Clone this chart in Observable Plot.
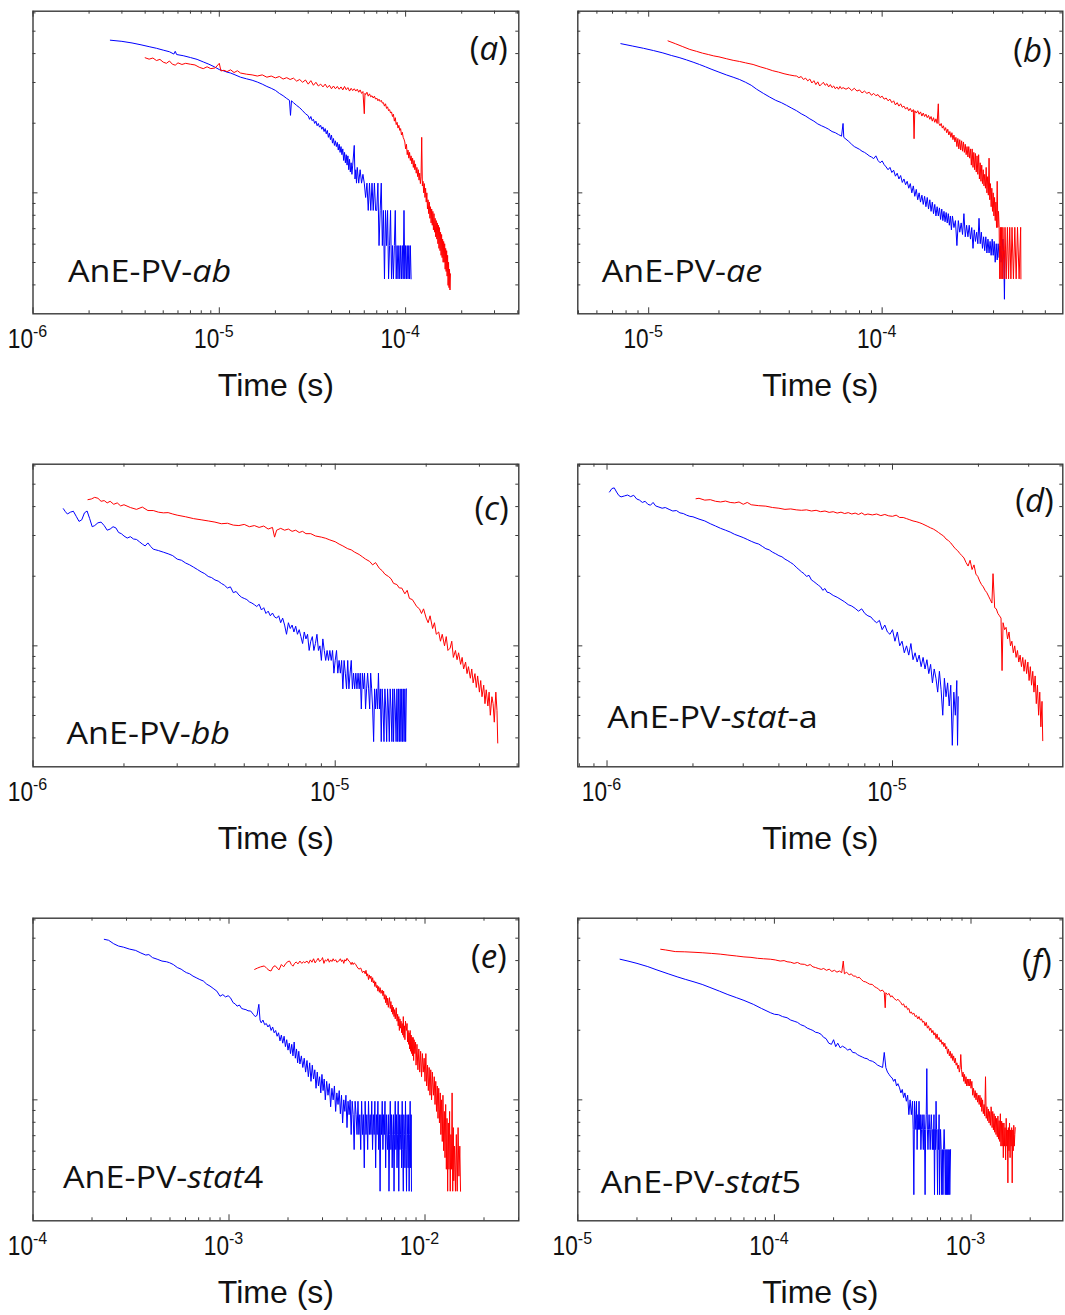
<!DOCTYPE html>
<html><head><meta charset="utf-8">
<script src="https://cdn.jsdelivr.net/npm/d3@7"></script>
<script src="https://cdn.jsdelivr.net/npm/@observablehq/plot@0.6"></script>
<style>
html,body{margin:0;padding:0;background:#fff;}
body{width:1065px;height:1315px;overflow:hidden;position:relative;}
.panel{position:absolute;}
</style></head>
<body>
<script>
// ---- Data: [time (µs), log10 signal (a.u.)] ----
const a_blue = [[2.6,0.66],[3.0,0.655],[3.4,0.648],[3.8,0.64],[4.2,0.632],[4.6,0.625],[5.0,0.617],[5.4,0.61],[5.7,0.60],[5.8,0.612],[5.9,0.598],[6.4,0.593],[7.0,0.585],[7.6,0.577],[8.2,0.566],[8.8,0.556],[9.4,0.545],[10,0.533],[10.5,0.528],[11,0.522],[11.5,0.518],[12,0.512],[13,0.50],[14,0.493],[15,0.487],[16,0.479],[17,0.47],[18,0.46],[19,0.452],[20,0.443],[21,0.43],[22,0.42],[23,0.408],[23.8,0.40],[24.1,0.335],[24.4,0.398],[25,0.39],[26,0.378],[27,0.368],[28,0.355],[29,0.342],[30,0.333],[30.5,0.318],[31,0.33],[31.5,0.312],[32,0.318],[32.5,0.3],[33,0.31],[33.5,0.29],[34,0.3],[34.5,0.284],[35,0.292],[35.5,0.275],[36,0.285],[36.5,0.265],[37,0.278],[37.5,0.255],[38,0.27],[38.5,0.24],[39,0.258],[39.5,0.23],[40,0.25],[40.5,0.215],[41,0.235],[41.5,0.205],[42,0.225],[42.5,0.2],[43,0.218],[43.5,0.185],[44,0.21],[44.5,0.175],[45,0.2],[45.5,0.165],[46,0.19],[46.5,0.14],[47,0.175],[47.5,0.13],[48,0.165],[48.5,0.12],[49,0.16],[49.5,0.1],[50,0.145],[50.5,0.09],[51,0.13],[51.5,0.08],[52,0.12],[53,0.205],[53.5,0.06],[54,0.1],[54.5,0.042],[55,0.11],[56,0.042],[57,0.1],[58,0.042],[59,0.08],[60,0.042],[61,-0.02],[62,0.042],[63,-0.076],[64,0.042],[65,-0.076],[66,0.042],[67,-0.076],[68,0.042],[69,-0.076],[70,-0.076],[71,0.042],[72,-0.228],[73,-0.076],[74,0.042],[75,-0.228],[76,-0.076],[77,-0.372],[78,-0.076],[79,-0.228],[80,-0.076],[81,-0.372],[82,-0.228],[83,-0.076],[84,-0.372],[85,-0.228],[86,-0.372],[87,-0.228],[88,-0.076],[89,-0.372],[90,-0.228],[91,-0.372],[92,-0.228],[93,-0.372],[94,-0.228],[95,-0.372],[96,-0.228],[97,-0.372],[98,-0.076],[99,-0.372],[100,-0.228],[101,-0.372],[102,-0.228],[103,-0.372],[104,-0.228],[105,-0.372],[106,-0.228],[107,-0.372]];
const a_red = [[4.0,0.584],[4.2,0.578],[4.4,0.583],[4.6,0.572],[4.8,0.577],[5.0,0.565],[5.2,0.56],[5.4,0.57],[5.6,0.556],[5.8,0.552],[6.0,0.562],[6.3,0.555],[6.6,0.56],[7.0,0.556],[7.4,0.553],[7.8,0.543],[8.2,0.537],[8.6,0.545],[9.0,0.537],[9.5,0.54],[10,0.56],[10.2,0.527],[10.6,0.53],[11,0.524],[11.5,0.532],[12,0.52],[12.5,0.528],[13,0.518],[14,0.513],[15,0.51],[16,0.505],[17,0.51],[18,0.5],[19,0.505],[20,0.497],[21,0.503],[22,0.492],[23,0.498],[24,0.49],[25,0.496],[26,0.483],[27,0.49],[28,0.478],[29,0.488],[30,0.47],[31,0.485],[32,0.465],[33,0.478],[34,0.462],[35,0.47],[36,0.458],[37,0.47],[38,0.455],[39,0.465],[40,0.45],[41,0.462],[42,0.45],[43,0.46],[44,0.448],[45,0.458],[46,0.445],[47,0.46],[48,0.446],[49,0.455],[50,0.44],[51,0.452],[52,0.442],[53,0.45],[54,0.44],[55,0.448],[56,0.435],[57,0.445],[58,0.43],[59,0.438],[60,0.342],[60.5,0.43],[61,0.425],[62,0.435],[63,0.418],[64,0.428],[65,0.415],[66,0.42],[67,0.41],[68,0.418],[69,0.405],[70,0.41],[71,0.398],[72,0.405],[73,0.395],[74,0.4],[75,0.388],[76,0.39],[77,0.375],[78,0.385],[79,0.365],[80,0.372],[81,0.355],[82,0.36],[83,0.345],[84,0.35],[85,0.33],[86,0.34],[87,0.31],[88,0.325],[89,0.295],[90,0.305],[91,0.28],[92,0.292],[93,0.27],[94,0.278],[95,0.25],[96,0.262],[97,0.24],[98,0.232],[99,0.22],[100,0.19],[101,0.21],[102,0.165],[103,0.185],[104,0.15],[105,0.175],[106,0.14],[107,0.16],[108,0.125],[109,0.15],[110,0.11],[111,0.14],[112,0.1],[113,0.125],[114,0.085],[115,0.11],[116,0.07],[117,0.1],[118,0.055],[119,0.085],[120,0.04],[121,0.07],[122,0.24],[123,0.03],[124,0.05],[125,0.0],[126,0.04],[127,-0.02],[128,0.02],[129,-0.04],[130,0.0],[131,-0.07],[132,-0.03],[133,-0.09],[134,-0.04],[135,-0.11],[136,-0.06],[137,-0.13],[138,-0.07],[139,-0.14],[140,-0.08],[141,-0.16],[142,-0.09],[143,-0.17],[144,-0.11],[145,-0.19],[146,-0.12],[147,-0.2],[148,-0.13],[149,-0.22],[150,-0.14],[151,-0.24],[152,-0.15],[153,-0.25],[154,-0.17],[155,-0.27],[156,-0.18],[157,-0.28],[158,-0.2],[159,-0.3],[160,-0.21],[161,-0.3],[162,-0.22],[163,-0.33],[164,-0.24],[165,-0.34],[166,-0.25],[167,-0.36],[168,-0.27],[169,-0.4],[170,-0.3],[171,-0.41],[172,-0.33],[173,-0.42],[174,-0.35]];

const b_blue = [[7.6,0.645],[8.5,0.635],[9.5,0.625],[10.5,0.615],[11.5,0.605],[12.5,0.594],[13.5,0.585],[14.5,0.575],[15.5,0.565],[16.5,0.555],[17.5,0.545],[18.5,0.535],[20,0.522],[21.5,0.51],[23,0.5],[24.5,0.49],[26,0.478],[27.5,0.465],[29,0.448],[31,0.43],[33,0.414],[35,0.4],[37,0.39],[39,0.378],[41,0.366],[43,0.355],[45,0.342],[47,0.332],[49,0.32],[51,0.31],[53,0.298],[55,0.29],[57,0.283],[59,0.275],[61,0.265],[63,0.26],[65,0.252],[67,0.245],[68,0.3],[68.5,0.24],[70,0.232],[72,0.222],[74,0.21],[76,0.2],[78,0.194],[80,0.188],[82,0.18],[84,0.175],[86,0.168],[88,0.16],[90,0.155],[92,0.148],[94,0.16],[96,0.14],[98,0.13],[100,0.138],[102,0.122],[104,0.112],[106,0.1],[108,0.11],[110,0.088],[112,0.098],[114,0.072],[116,0.085],[118,0.06],[120,0.075],[122,0.045],[124,0.06],[126,0.035],[128,0.05],[130,0.02],[132,0.04],[134,0.0],[136,0.03],[138,-0.015],[140,0.015],[142,-0.03],[144,0.0],[146,-0.04],[148,-0.01],[150,-0.05],[152,-0.015],[154,-0.06],[156,-0.02],[158,-0.07],[160,-0.03],[162,-0.08],[164,-0.04],[166,-0.09],[168,-0.05],[170,-0.1],[172,-0.06],[174,-0.1],[176,-0.065],[178,-0.115],[180,-0.07],[182,-0.12],[184,-0.08],[186,-0.125],[188,-0.085],[190,-0.13],[192,-0.09],[194,-0.14],[196,-0.1],[198,-0.16],[200,-0.1],[203,-0.15],[206,-0.12],[209,-0.228],[212,-0.12],[215,-0.17],[218,-0.13],[221,-0.18],[224,-0.09],[227,-0.19],[230,-0.14],[233,-0.19],[236,-0.14],[239,-0.2],[242,-0.15],[245,-0.24],[248,-0.16],[251,-0.21],[254,-0.17],[257,-0.22],[260,-0.11],[263,-0.22],[266,-0.17],[269,-0.24],[272,-0.19],[275,-0.25],[278,-0.19],[281,-0.26],[284,-0.2],[287,-0.26],[290,-0.21],[293,-0.27],[296,-0.2],[299,-0.27],[302,-0.21],[305,-0.3],[308,-0.22],[311,-0.29],[314,-0.22],[317,-0.28],[320,-0.23],[323,-0.3],[326,-0.25],[329,-0.2],[332,-0.29],[334,-0.46],[336,-0.25]];
const b_red = [[12.1,0.657],[13,0.645],[14,0.632],[15,0.62],[16,0.612],[17,0.604],[18,0.598],[19,0.592],[20,0.588],[21.5,0.58],[23,0.573],[24.5,0.568],[26,0.562],[28,0.555],[30,0.545],[32,0.537],[34,0.528],[36,0.522],[38,0.515],[40,0.51],[42,0.506],[43,0.505],[44,0.498],[45,0.503],[46,0.49],[47,0.496],[48,0.484],[49,0.492],[50,0.475],[51,0.485],[52,0.468],[53,0.48],[54,0.462],[55,0.47],[56,0.478],[57,0.465],[58,0.472],[59,0.458],[60,0.468],[61,0.455],[62,0.462],[63,0.45],[64,0.458],[65,0.448],[66,0.46],[67,0.45],[68,0.455],[70,0.448],[72,0.455],[74,0.442],[76,0.452],[78,0.44],[80,0.445],[82,0.432],[84,0.44],[86,0.43],[88,0.435],[90,0.422],[92,0.43],[94,0.42],[96,0.425],[98,0.412],[100,0.418],[102,0.405],[104,0.41],[106,0.398],[108,0.405],[110,0.39],[112,0.398],[114,0.38],[116,0.39],[118,0.375],[120,0.385],[122,0.37],[124,0.375],[126,0.362],[128,0.37],[130,0.355],[132,0.365],[134,0.35],[136,0.36],[137,0.234],[138,0.355],[140,0.345],[142,0.355],[144,0.34],[146,0.35],[148,0.332],[150,0.345],[152,0.33],[154,0.34],[156,0.325],[158,0.335],[160,0.318],[162,0.33],[164,0.31],[166,0.325],[168,0.305],[170,0.32],[172,0.3],[174,0.385],[175,0.3],[177,0.29],[179,0.3],[181,0.28],[183,0.29],[185,0.27],[187,0.282],[189,0.26],[191,0.275],[193,0.25],[195,0.265],[197,0.24],[199,0.26],[201,0.23],[203,0.25],[205,0.22],[207,0.24],[209,0.2],[211,0.235],[213,0.19],[215,0.23],[217,0.185],[219,0.225],[221,0.18],[223,0.22],[225,0.175],[227,0.21],[229,0.165],[231,0.2],[233,0.155],[235,0.2],[237,0.15],[239,0.19],[241,0.12],[243,0.19],[245,0.11],[247,0.175],[249,0.1],[251,0.17],[253,0.09],[255,0.16],[257,0.08],[259,0.165],[261,0.06],[263,0.13],[265,0.05],[267,0.12],[269,0.04],[271,0.1],[273,0.03],[275,0.08],[277,0.02],[279,0.11],[281,0.0],[283,0.07],[285,-0.01],[287,0.15],[289,-0.03],[291,0.04],[293,-0.06],[295,0.02],[297,-0.08],[299,0.0],[301,-0.1],[303,-0.02],[305,-0.12],[307,-0.04],[309,-0.15],[311,0.05],[313,-0.15],[315,-0.08],[317,-0.149],[319,-0.372],[321,-0.149],[323,-0.372],[325,-0.149],[327,-0.372],[329,-0.149],[331,-0.25],[333,-0.372],[336,-0.149],[340,-0.372],[344,-0.149],[348,-0.372],[352,-0.149],[356,-0.372],[360,-0.149],[365,-0.372],[370,-0.149],[375,-0.372],[380,-0.149],[386,-0.372],[392,-0.149],[393,-0.372]];

const c_blue = [[1.26,0.593],[1.28,0.58],[1.30,0.57],[1.33,0.578],[1.36,0.582],[1.39,0.56],[1.42,0.538],[1.45,0.545],[1.48,0.575],[1.51,0.583],[1.54,0.55],[1.57,0.515],[1.60,0.52],[1.64,0.532],[1.68,0.535],[1.72,0.52],[1.76,0.5],[1.80,0.505],[1.84,0.515],[1.88,0.51],[1.92,0.49],[1.96,0.485],[2.0,0.475],[2.05,0.466],[2.1,0.472],[2.15,0.462],[2.2,0.46],[2.25,0.45],[2.3,0.44],[2.35,0.432],[2.4,0.445],[2.45,0.43],[2.5,0.418],[2.55,0.415],[2.6,0.412],[2.7,0.405],[2.8,0.398],[2.9,0.39],[3.0,0.375],[3.1,0.37],[3.2,0.358],[3.3,0.35],[3.4,0.34],[3.5,0.33],[3.6,0.32],[3.7,0.312],[3.8,0.3],[3.9,0.295],[4.0,0.285],[4.1,0.28],[4.2,0.27],[4.3,0.262],[4.4,0.25],[4.5,0.255],[4.6,0.23],[4.7,0.235],[4.8,0.22],[4.9,0.21],[5.0,0.205],[5.1,0.2],[5.2,0.19],[5.3,0.185],[5.4,0.178],[5.5,0.17],[5.6,0.18],[5.7,0.155],[5.8,0.165],[5.9,0.14],[6.0,0.15],[6.1,0.13],[6.2,0.142],[6.3,0.125],[6.4,0.12],[6.5,0.13],[6.6,0.1],[6.7,0.12],[6.8,0.09],[6.9,0.05],[7.0,0.1],[7.1,0.075],[7.2,0.09],[7.3,0.06],[7.4,0.085],[7.5,0.05],[7.6,0.07],[7.7,0.04],[7.8,0.01],[7.9,0.06],[8.0,0.03],[8.1,0.05],[8.2,-0.02],[8.3,0.02],[8.4,0.04],[8.5,-0.02],[8.6,0.01],[8.7,0.05],[8.8,-0.02],[8.9,0.0],[9.0,-0.063],[9.1,0.03],[9.2,-0.02],[9.3,-0.063],[9.4,-0.02],[9.5,-0.063],[9.6,-0.02],[9.7,-0.063],[9.8,-0.02],[9.9,-0.118],[10.0,-0.063],[10.1,-0.02],[10.2,-0.118],[10.3,-0.063],[10.4,-0.118],[10.5,-0.063],[10.6,-0.186],[10.7,-0.063],[10.8,-0.118],[10.9,-0.186],[11.0,-0.063],[11.1,-0.186],[11.2,-0.118],[11.3,-0.063],[11.4,-0.186],[11.5,-0.118],[11.6,-0.186],[11.7,-0.118],[11.8,-0.186],[11.9,-0.118],[12.0,-0.186],[12.1,-0.118],[12.2,-0.273],[12.3,-0.118],[12.4,-0.186],[12.5,-0.118],[12.6,-0.273],[12.7,-0.186],[12.8,-0.118],[12.9,-0.186],[13.0,-0.273],[13.1,-0.118],[13.2,-0.186],[13.3,-0.273],[13.4,-0.414],[13.5,-0.186],[13.6,-0.273],[13.7,-0.186],[13.8,-0.273],[13.9,-0.118],[14.0,-0.273],[14.1,-0.186],[14.2,-0.414],[14.3,-0.186],[14.4,-0.273],[14.5,-0.414],[14.6,-0.186],[14.7,-0.273],[14.8,-0.414],[14.9,-0.186],[15.0,-0.273],[15.1,-0.414],[15.2,-0.186],[15.3,-0.273],[15.4,-0.414],[15.5,-0.186],[15.6,-0.414],[15.7,-0.186],[15.8,-0.273],[15.9,-0.414],[16.0,-0.186],[16.1,-0.414],[16.2,-0.186],[16.3,-0.414],[16.4,-0.186],[16.5,-0.414],[16.6,-0.186],[16.7,-0.414],[16.8,-0.186],[16.9,-0.414],[17.0,-0.186],[17.1,-0.414],[17.2,-0.186]];
const c_red = [[1.52,0.632],[1.56,0.635],[1.60,0.642],[1.64,0.638],[1.68,0.625],[1.72,0.628],[1.76,0.618],[1.80,0.625],[1.85,0.612],[1.9,0.618],[1.95,0.605],[2.0,0.61],[2.1,0.598],[2.2,0.59],[2.3,0.6],[2.4,0.585],[2.5,0.585],[2.6,0.578],[2.7,0.575],[2.8,0.576],[2.9,0.57],[3.0,0.565],[3.2,0.558],[3.4,0.55],[3.6,0.545],[3.8,0.54],[4.0,0.535],[4.2,0.528],[4.4,0.53],[4.6,0.522],[4.8,0.52],[5.0,0.525],[5.2,0.515],[5.4,0.52],[5.6,0.512],[5.8,0.518],[6.0,0.505],[6.2,0.512],[6.3,0.47],[6.4,0.5],[6.6,0.508],[6.8,0.5],[7.0,0.505],[7.2,0.495],[7.4,0.5],[7.6,0.49],[7.8,0.495],[8.0,0.485],[8.3,0.485],[8.6,0.475],[9.0,0.47],[9.3,0.465],[9.6,0.458],[10.0,0.45],[10.3,0.44],[10.6,0.432],[11.0,0.42],[11.3,0.415],[11.6,0.405],[12.0,0.395],[12.3,0.385],[12.6,0.375],[13.0,0.365],[13.3,0.35],[13.6,0.36],[14.0,0.335],[14.3,0.325],[14.6,0.31],[15.0,0.3],[15.3,0.29],[15.6,0.27],[16.0,0.265],[16.3,0.25],[16.6,0.25],[17.0,0.225],[17.3,0.24],[17.6,0.205],[18.0,0.2],[18.3,0.185],[18.6,0.17],[19.0,0.16],[19.3,0.14],[19.6,0.16],[20.0,0.12],[20.3,0.1],[20.6,0.13],[21.0,0.075],[21.3,0.1],[21.6,0.05],[22.0,0.06],[22.3,0.02],[22.6,0.05],[23.0,0.0],[23.3,0.04],[23.6,-0.02],[24.0,-0.01],[24.3,0.02],[24.6,-0.05],[25.0,-0.02],[25.3,-0.06],[25.6,-0.03],[26.0,-0.08],[26.3,-0.05],[26.6,-0.1],[27.0,-0.07],[27.3,-0.12],[27.6,-0.09],[28.0,-0.14],[28.3,-0.1],[28.6,-0.16],[29.0,-0.12],[29.3,-0.18],[29.6,-0.13],[30.0,-0.2],[30.3,-0.15],[30.6,-0.22],[31.0,-0.17],[31.3,-0.25],[31.6,-0.19],[32.0,-0.26],[32.3,-0.2],[32.6,-0.3],[33.0,-0.22],[33.3,-0.25],[33.6,-0.33],[34.0,-0.2],[34.3,-0.28],[34.5,-0.42]];

const d_blue = [[1.02,0.665],[1.04,0.68],[1.06,0.683],[1.08,0.665],[1.10,0.65],[1.12,0.644],[1.15,0.648],[1.18,0.652],[1.21,0.645],[1.24,0.651],[1.27,0.635],[1.30,0.63],[1.33,0.62],[1.36,0.625],[1.39,0.612],[1.42,0.608],[1.45,0.62],[1.48,0.605],[1.52,0.6],[1.56,0.595],[1.60,0.598],[1.65,0.59],[1.7,0.583],[1.75,0.585],[1.8,0.575],[1.85,0.572],[1.9,0.565],[1.95,0.56],[2.0,0.558],[2.1,0.548],[2.2,0.54],[2.3,0.528],[2.4,0.518],[2.5,0.508],[2.6,0.5],[2.7,0.492],[2.8,0.482],[2.9,0.475],[3.0,0.468],[3.1,0.46],[3.2,0.452],[3.3,0.445],[3.4,0.44],[3.5,0.43],[3.6,0.42],[3.7,0.415],[3.8,0.405],[3.9,0.398],[4.0,0.39],[4.1,0.385],[4.2,0.375],[4.3,0.368],[4.4,0.36],[4.5,0.352],[4.6,0.34],[4.7,0.33],[4.8,0.32],[4.9,0.312],[5.0,0.3],[5.1,0.305],[5.2,0.285],[5.3,0.278],[5.4,0.27],[5.5,0.262],[5.6,0.255],[5.7,0.24],[5.8,0.248],[5.9,0.232],[6.0,0.23],[6.2,0.218],[6.4,0.21],[6.6,0.2],[6.8,0.19],[7.0,0.178],[7.2,0.172],[7.4,0.162],[7.6,0.15],[7.8,0.16],[8.0,0.14],[8.2,0.13],[8.4,0.125],[8.6,0.11],[8.8,0.1],[9.0,0.11],[9.2,0.07],[9.4,0.09],[9.6,0.06],[9.8,0.05],[10.0,0.07],[10.2,0.02],[10.4,0.06],[10.6,0.0],[10.8,0.02],[11.0,-0.03],[11.2,0.0],[11.4,-0.04],[11.6,0.01],[11.8,-0.06],[12.0,-0.03],[12.2,-0.07],[12.4,-0.04],[12.6,-0.09],[12.8,-0.05],[13.0,-0.1],[13.2,-0.06],[13.4,-0.12],[13.6,-0.08],[13.8,-0.16],[14.0,-0.1],[14.2,-0.14],[14.4,-0.2],[14.6,-0.11],[14.8,-0.19],[15.0,-0.3],[15.2,-0.14],[15.4,-0.22],[15.6,-0.16],[15.8,-0.26],[16.0,-0.17],[16.2,-0.43],[16.4,-0.2],[16.6,-0.3],[16.8,-0.15],[16.9,-0.43],[17.0,-0.22]];
const d_red = [[2.05,0.636],[2.1,0.638],[2.2,0.63],[2.3,0.632],[2.4,0.625],[2.5,0.622],[2.6,0.626],[2.7,0.62],[2.8,0.618],[2.9,0.622],[3.0,0.612],[3.1,0.62],[3.2,0.61],[3.4,0.606],[3.6,0.604],[3.8,0.598],[4.0,0.595],[4.2,0.59],[4.4,0.592],[4.6,0.588],[4.8,0.586],[5.0,0.588],[5.2,0.583],[5.4,0.586],[5.6,0.58],[5.8,0.583],[6.0,0.577],[6.2,0.58],[6.4,0.574],[6.6,0.578],[6.8,0.572],[7.0,0.576],[7.2,0.57],[7.4,0.574],[7.6,0.568],[7.8,0.575],[8.0,0.566],[8.2,0.57],[8.5,0.566],[8.8,0.57],[9.1,0.563],[9.4,0.568],[9.7,0.562],[10.0,0.56],[10.3,0.565],[10.6,0.555],[10.9,0.555],[11.2,0.55],[11.5,0.545],[11.8,0.54],[12.1,0.537],[12.4,0.533],[12.7,0.528],[13.0,0.522],[13.3,0.516],[13.6,0.51],[13.9,0.505],[14.2,0.498],[14.5,0.49],[14.8,0.482],[15.1,0.475],[15.4,0.462],[15.7,0.455],[16.0,0.445],[16.3,0.432],[16.6,0.42],[16.9,0.412],[17.2,0.4],[17.5,0.39],[17.8,0.38],[18.1,0.36],[18.4,0.345],[18.7,0.37],[19.0,0.33],[19.3,0.35],[19.6,0.31],[19.9,0.3],[20.2,0.28],[20.5,0.265],[20.8,0.255],[21.1,0.24],[21.4,0.23],[21.7,0.215],[22.0,0.2],[22.3,0.185],[22.5,0.312],[22.8,0.165],[23.1,0.16],[23.4,0.14],[23.7,0.13],[24.0,0.12],[24.2,-0.107],[24.4,0.1],[24.7,0.07],[25.0,0.08],[25.3,0.03],[25.6,0.06],[25.9,0.0],[26.2,0.02],[26.5,-0.03],[26.8,0.0],[27.1,-0.05],[27.4,-0.02],[27.7,-0.07],[28.0,-0.04],[28.3,-0.09],[28.6,-0.05],[28.9,-0.11],[29.2,-0.06],[29.5,-0.12],[29.8,-0.07],[30.1,-0.15],[30.4,-0.09],[30.7,-0.17],[31.0,-0.11],[31.3,-0.2],[31.6,-0.13],[31.9,-0.25],[32.2,-0.17],[32.5,-0.3],[32.8,-0.2],[33.1,-0.35],[33.4,-0.24],[33.6,-0.41]];

const e_blue = [[231,0.694],[243,0.69],[258,0.675],[273,0.665],[290,0.66],[310,0.652],[334,0.646],[355,0.635],[376,0.626],[390,0.628],[407,0.615],[430,0.608],[455,0.6],[480,0.597],[497,0.593],[520,0.585],[545,0.572],[570,0.565],[590,0.556],[606,0.55],[630,0.545],[655,0.535],[680,0.528],[710,0.52],[739,0.514],[770,0.5],[800,0.492],[830,0.482],[867,0.47],[900,0.448],[930,0.455],[960,0.445],[990,0.45],[1016,0.442],[1050,0.42],[1075,0.415],[1100,0.405],[1130,0.41],[1160,0.395],[1190,0.392],[1220,0.39],[1250,0.385],[1290,0.384],[1330,0.37],[1360,0.36],[1390,0.365],[1420,0.413],[1440,0.345],[1460,0.333],[1490,0.345],[1520,0.325],[1550,0.33],[1580,0.315],[1610,0.325],[1640,0.3],[1670,0.315],[1700,0.29],[1730,0.3],[1760,0.275],[1790,0.29],[1820,0.255],[1850,0.28],[1880,0.245],[1910,0.275],[1940,0.23],[1970,0.26],[2000,0.215],[2030,0.245],[2060,0.2],[2090,0.24],[2120,0.19],[2150,0.25],[2180,0.18],[2210,0.22],[2240,0.16],[2270,0.21],[2300,0.155],[2340,0.19],[2380,0.14],[2420,0.18],[2460,0.12],[2500,0.17],[2540,0.1],[2580,0.16],[2620,0.08],[2660,0.15],[2700,0.09],[2740,0.13],[2780,0.05],[2820,0.12],[2860,0.06],[2900,0.1],[2940,0.03],[2980,0.11],[3020,0.04],[3060,0.09],[3100,0.0],[3150,0.08],[3200,0.02],[3250,0.07],[3300,-0.03],[3350,0.05],[3400,0.0],[3450,0.06],[3500,-0.05],[3550,0.03],[3600,-0.02],[3650,0.04],[3700,-0.06],[3750,0.02],[3800,-0.1],[3850,0.0],[3900,-0.05],[3950,0.02],[4000,-0.12],[4050,-0.006],[4100,-0.064],[4150,0.0],[4200,-0.15],[4250,-0.006],[4300,-0.064],[4350,-0.215],[4400,-0.006],[4450,-0.064],[4500,-0.15],[4550,-0.006],[4600,-0.15],[4650,-0.064],[4700,-0.215],[4750,-0.006],[4800,-0.15],[4850,-0.064],[4900,-0.294],[4950,-0.006],[5000,-0.15],[5050,-0.064],[5100,-0.215],[5150,-0.006],[5200,-0.15],[5250,-0.064],[5300,-0.15],[5350,-0.006],[5400,-0.215],[5450,-0.064],[5500,-0.15],[5550,-0.006],[5600,-0.294],[5650,-0.064],[5700,-0.15],[5750,-0.006],[5800,-0.215],[5850,-0.064],[5900,-0.395],[5950,-0.064],[6000,-0.15],[6050,-0.006],[6100,-0.215],[6150,-0.064],[6200,-0.15],[6250,-0.006],[6300,-0.294],[6350,-0.064],[6400,-0.15],[6450,-0.215],[6500,-0.064],[6550,-0.395],[6600,-0.15],[6650,-0.006],[6700,-0.215],[6750,-0.064],[6800,-0.294],[6850,-0.15],[6900,-0.064],[6950,-0.395],[7000,-0.15],[7050,-0.006],[7100,-0.215],[7150,-0.064],[7200,-0.294],[7250,-0.15],[7300,-0.006],[7350,-0.395],[7400,-0.064],[7450,-0.215],[7500,-0.15],[7550,-0.064],[7600,-0.294],[7650,-0.006],[7700,-0.215],[7750,-0.395],[7800,-0.064],[7850,-0.15],[7900,-0.294],[7950,-0.006],[8000,-0.215],[8050,-0.395],[8100,-0.064],[8150,-0.15],[8200,-0.294],[8250,-0.064],[8300,-0.395],[8350,-0.15],[8400,-0.006],[8450,-0.294],[8500,-0.064],[8530,-0.395]];
const e_red = [[1352,0.564],[1400,0.57],[1450,0.575],[1514,0.579],[1560,0.568],[1600,0.56],[1637,0.557],[1680,0.575],[1720,0.58],[1760,0.57],[1800,0.562],[1850,0.585],[1900,0.575],[1950,0.59],[2000,0.598],[2037,0.6],[2080,0.585],[2120,0.578],[2160,0.59],[2200,0.596],[2250,0.588],[2300,0.6],[2350,0.59],[2400,0.597],[2438,0.593],[2500,0.6],[2550,0.59],[2600,0.605],[2650,0.595],[2700,0.61],[2750,0.592],[2800,0.602],[2850,0.612],[2900,0.598],[2972,0.607],[3000,0.615],[3050,0.59],[3100,0.605],[3150,0.6],[3200,0.61],[3250,0.595],[3300,0.605],[3350,0.598],[3400,0.61],[3450,0.6],[3500,0.606],[3550,0.595],[3631,0.6],[3700,0.61],[3750,0.598],[3800,0.605],[3850,0.59],[3900,0.606],[3950,0.6],[4000,0.612],[4087,0.6],[4150,0.595],[4200,0.585],[4250,0.595],[4300,0.585],[4350,0.592],[4430,0.586],[4500,0.575],[4600,0.565],[4700,0.57],[4800,0.55],[4887,0.557],[4950,0.545],[5000,0.56],[5050,0.535],[5100,0.545],[5150,0.52],[5200,0.54],[5250,0.525],[5300,0.535],[5350,0.51],[5406,0.528],[5450,0.505],[5500,0.515],[5550,0.49],[5600,0.51],[5650,0.485],[5700,0.495],[5750,0.47],[5800,0.49],[5850,0.465],[5900,0.485],[5963,0.46],[6050,0.475],[6100,0.45],[6150,0.47],[6200,0.435],[6250,0.455],[6300,0.42],[6350,0.45],[6400,0.41],[6450,0.44],[6500,0.4],[6590,0.442],[6650,0.395],[6700,0.425],[6750,0.38],[6800,0.41],[6850,0.37],[6900,0.4],[6950,0.36],[7000,0.39],[7050,0.35],[7131,0.398],[7200,0.34],[7250,0.37],[7300,0.32],[7350,0.36],[7400,0.3],[7450,0.35],[7500,0.31],[7550,0.34],[7600,0.29],[7650,0.33],[7700,0.28],[7750,0.36],[7800,0.27],[7850,0.32],[7900,0.26],[7950,0.34],[8035,0.3],[8100,0.33],[8150,0.25],[8200,0.3],[8250,0.24],[8300,0.29],[8350,0.22],[8400,0.3],[8450,0.21],[8500,0.28],[8550,0.2],[8600,0.27],[8650,0.19],[8700,0.27],[8750,0.17],[8800,0.26],[8872,0.2],[8950,0.25],[9000,0.15],[9100,0.24],[9200,0.13],[9300,0.22],[9400,0.12],[9500,0.21],[9600,0.1],[9700,0.2],[9795,0.12],[9900,0.18],[10000,0.08],[10100,0.2],[10200,0.06],[10300,0.15],[10400,0.04],[10500,0.14],[10600,0.02],[10700,0.13],[10800,0.0],[10900,0.12],[11040,0.02],[11150,0.1],[11250,-0.02],[11350,0.08],[11450,-0.05],[11550,0.06],[11650,-0.08],[11750,0.05],[11850,-0.1],[11970,0.03],[12050,-0.15],[12150,0.0],[12250,-0.18],[12350,0.02],[12450,-0.22],[12550,-0.05],[12650,-0.25],[12750,-0.02],[12850,-0.3],[12950,-0.08],[13050,-0.395],[13150,-0.1],[13250,-0.3],[13350,-0.05],[13450,-0.395],[13550,-0.15],[13650,-0.3],[13750,0.03],[13850,-0.395],[13950,-0.12],[14020,-0.35],[14150,-0.2],[14300,-0.395],[14450,-0.15],[14600,-0.395],[14750,-0.12],[14900,-0.33],[15050,-0.2],[15180,-0.395]];

const f_blue = [[16.4,0.608],[18,0.6],[20,0.59],[22.7,0.576],[25,0.563],[28.8,0.545],[32,0.532],[35.2,0.521],[39,0.51],[42.9,0.499],[47,0.486],[52.5,0.47],[58,0.455],[64,0.442],[70,0.43],[78.1,0.413],[86,0.395],[95.3,0.377],[100,0.37],[105,0.368],[110,0.36],[116,0.355],[121,0.345],[126,0.34],[131,0.335],[136,0.325],[142,0.319],[147,0.31],[152,0.305],[157,0.3],[162,0.292],[167,0.29],[173,0.283],[178,0.27],[183,0.265],[189,0.245],[195,0.24],[200,0.26],[205,0.23],[210,0.245],[216,0.225],[222,0.232],[229,0.225],[236,0.215],[243,0.22],[250,0.205],[258,0.203],[265,0.195],[272,0.19],[280,0.185],[288,0.18],[296,0.178],[305,0.17],[315,0.167],[325,0.16],[335,0.15],[345,0.145],[355,0.14],[362,0.205],[369,0.139],[376,0.12],[383,0.11],[390,0.1],[397,0.095],[404,0.08],[411,0.09],[418,0.06],[425,0.07],[433,0.052],[440,0.03],[447,0.045],[454,0.01],[461,0.03],[469,-0.006],[476,0.02],[483,-0.064],[490,0.0],[497,-0.064],[504,-0.006],[508,-0.128],[512,-0.41],[516,-0.006],[520,-0.064],[524,-0.128],[528,-0.006],[532,-0.215],[536,-0.064],[540,-0.128],[544,-0.006],[548,-0.128],[552,-0.064],[556,-0.215],[560,-0.128],[564,-0.064],[568,-0.128],[572,-0.215],[576,-0.064],[580,-0.128],[584,-0.41],[588,-0.128],[592,-0.064],[596,0.135],[600,-0.128],[604,-0.215],[608,-0.128],[612,-0.064],[616,-0.128],[620,-0.215],[624,-0.128],[628,-0.064],[632,-0.128],[636,-0.215],[640,-0.128],[644,-0.215],[648,-0.064],[652,-0.41],[656,-0.128],[660,-0.215],[664,-0.006],[668,-0.128],[672,-0.215],[676,-0.41],[680,-0.128],[684,-0.215],[688,-0.064],[692,-0.41],[696,-0.215],[700,-0.128],[705,-0.215],[710,-0.41],[715,-0.215],[720,-0.41],[725,-0.215],[730,-0.128],[735,-0.215],[740,-0.41],[745,-0.215],[750,-0.41],[755,-0.215],[760,-0.41],[765,-0.215],[770,-0.41],[775,-0.215],[780,-0.41],[787,-0.215]];
const f_red = [[26.4,0.651],[28,0.648],[31.3,0.641],[35,0.64],[39,0.638],[42.9,0.636],[48,0.633],[53,0.63],[58,0.626],[64,0.622],[70,0.618],[76,0.616],[82,0.612],[88,0.61],[95.3,0.608],[101,0.605],[107,0.6],[112,0.602],[116,0.597],[121,0.595],[126,0.59],[131,0.594],[136,0.587],[142,0.586],[147,0.58],[152,0.585],[157,0.575],[162,0.572],[167,0.568],[173,0.564],[178,0.568],[184,0.56],[190,0.565],[196,0.555],[202,0.56],[208,0.552],[214,0.557],[220,0.55],[224,0.6],[227,0.545],[233,0.552],[240,0.54],[246,0.545],[252,0.535],[258,0.535],[264,0.528],[270,0.53],[277,0.52],[284,0.512],[291,0.51],[298,0.505],[305,0.5],[315,0.499],[322,0.49],[330,0.485],[338,0.48],[346,0.47],[354,0.475],[362,0.465],[366,0.398],[369,0.463],[376,0.455],[383,0.46],[390,0.445],[397,0.45],[404,0.44],[411,0.435],[418,0.43],[425,0.435],[433,0.427],[440,0.42],[447,0.41],[454,0.415],[461,0.4],[469,0.405],[476,0.39],[483,0.395],[490,0.375],[497,0.38],[504,0.37],[512,0.375],[520,0.36],[528,0.365],[536,0.35],[544,0.36],[552,0.345],[560,0.35],[568,0.335],[576,0.34],[584,0.32],[592,0.335],[600,0.31],[608,0.32],[616,0.3],[624,0.31],[632,0.29],[640,0.3],[648,0.28],[656,0.29],[664,0.265],[672,0.285],[680,0.26],[688,0.27],[696,0.25],[704,0.26],[712,0.24],[720,0.25],[728,0.23],[736,0.245],[744,0.22],[752,0.23],[760,0.2],[768,0.22],[776,0.19],[784,0.21],[792,0.18],[800,0.2],[808,0.17],[816,0.19],[824,0.16],[832,0.18],[840,0.15],[848,0.16],[856,0.135],[864,0.15],[872,0.12],[880,0.14],[887,0.196],[895,0.13],[903,0.1],[911,0.12],[919,0.08],[927,0.11],[935,0.07],[943,0.1],[951,0.06],[959,0.09],[967,0.06],[975,0.09],[983,0.06],[991,0.09],[1000,0.05],[1010,0.08],[1020,0.02],[1030,0.05],[1040,0.01],[1050,0.04],[1060,0.0],[1070,0.03],[1080,-0.01],[1090,0.02],[1100,-0.02],[1110,0.02],[1120,-0.03],[1127,0.009],[1135,-0.05],[1145,0.0],[1155,-0.06],[1165,-0.02],[1175,-0.07],[1185,0.1],[1195,-0.08],[1205,-0.03],[1215,-0.09],[1225,-0.04],[1235,-0.1],[1245,-0.05],[1255,-0.11],[1265,-0.03],[1271,-0.049],[1280,-0.12],[1290,-0.05],[1300,-0.13],[1310,-0.06],[1320,-0.14],[1330,-0.07],[1340,-0.15],[1350,-0.08],[1360,-0.16],[1370,-0.07],[1380,-0.17],[1390,-0.09],[1400,-0.18],[1410,-0.06],[1420,-0.2],[1432,-0.092],[1440,-0.2],[1450,-0.1],[1460,-0.25],[1470,-0.1],[1480,-0.2],[1490,-0.12],[1500,-0.26],[1510,-0.08],[1520,-0.2],[1530,-0.13],[1540,-0.359],[1549,-0.12],[1560,-0.22],[1570,-0.1],[1580,-0.25],[1590,-0.13],[1600,-0.2],[1610,-0.12],[1620,-0.359],[1630,-0.13],[1640,-0.22],[1650,-0.11],[1660,-0.2],[1670,-0.15],[1679,-0.12]];

// ---- Panel text and axis tick labels ----
const panelTags = ["a", "b", "c", "d", "e", "f"];
const panelNames = [["AnE-PV-", "ab", ""], ["AnE-PV-", "ae", ""], ["AnE-PV-", "bb", ""], ["AnE-PV-", "stat", "-a"], ["AnE-PV-", "stat", "4"], ["AnE-PV-", "stat", "5"]];
const xDomains = [[1e-6, 4.05e-4], [4.97e-6, 5.94e-4], [1e-6, 4.05e-5], [7.9e-7, 3.95e-5], [1e-4, 3.01e-2], [1e-5, 2.93e-3]];
const xExponents = [[-6, -5, -4], [-5, -4], [-6, -5], [-6, -5], [-4, -3, -2], [-5, -4, -3]];
const yDomain = [0.3, 6.1];
const yTickValues = [0.4, 0.5, 0.6, 0.7, 0.8, 0.9, 1, 2, 3, 4, 5, 6];
const xLabel = "Time (s)";
const seriesBlue = [a_blue, b_blue, c_blue, d_blue, e_blue, f_blue];
const seriesRed = [a_red, b_red, c_red, d_red, e_red, f_red];

// ---- Layout ----
const colLeft = [0, 545], colWidth = [532, 520];
const colMarginLeft = [32.5, 32.3], colMarginRight = [13.7, 2.7];
const rowTop = [0, 453.3, 906.6];
const H = 410, MT = 10.7, MB = 96.7;
const innerH = H - MT - MB;
const nameDx = [35, 24, 33.5, 29.4, 30, 23];      // px from frame left
const nameBase = [30, 30, 21, 37, 31, 26];        // px baseline above frame bottom
const tagDx = [-11, -11, -10, -9, -12, -11];
const tagShift = [0, 2, 7, -1, 1, 6];
const frameColor = "#3a3a3a";
const sansAxis = "'Liberation Sans', Arial, sans-serif";
const sansLabel = "'Open Sans', 'Noto Sans', sans-serif";

function scaleTextX(svg, match, sx) {
  svg.querySelectorAll("text").forEach(t => {
    if (!match(t.textContent)) return;
    const tr = t.getAttribute("transform") || "";
    t.setAttribute("transform", tr + ` scale(${sx},1)`);
  });
}
function richText(svg, full, parts) {
  svg.querySelectorAll("text").forEach(t => {
    if (t.textContent !== full) return;
    while (t.firstChild) t.removeChild(t.firstChild);
    parts.forEach(([s, it]) => {
      if (!s) return;
      const ts = document.createElementNS("http://www.w3.org/2000/svg", "tspan");
      ts.textContent = s;
      if (it) ts.setAttribute("font-style", "italic");
      t.appendChild(ts);
    });
  });
}

panelTags.forEach((tag, i) => {
  const col = i % 2, row = Math.floor(i / 2);
  const W = colWidth[col];
  const innerW = W - colMarginLeft[col] - colMarginRight[col];
  const dom = xDomains[i];
  const xt = d3.scaleLog().domain(dom).ticks().filter(v => v >= dom[0] * 0.999 && v <= dom[1] * 1.001);
  const isMajor = v => Math.abs(Math.log10(v) - Math.round(Math.log10(v))) < 1e-6;
  const xMaj = xt.filter(isMajor), xMin = xt.filter(v => !isMajor(v));
  const yMaj = yTickValues.filter(isMajor), yMin = yTickValues.filter(v => !isMajor(v));
  const expVals = xExponents[i].map(e => 10 ** e);
  const name = panelNames[i];
  const fullName = name.join("");
  const tagFull = "(" + tag + ")";
  const line = (data, color) => Plot.line(data, {x: d => d[0] * 1e-6, y: d => 10 ** d[1], stroke: color, strokeWidth: 1, strokeLinejoin: "miter"});
  const tickStyle = {stroke: frameColor, strokeWidth: 1};

  const svg = Plot.plot({
    width: W, height: H,
    marginLeft: colMarginLeft[col], marginRight: colMarginRight[col], marginTop: MT, marginBottom: MB,
    x: {type: "log", domain: dom, axis: null},
    y: {type: "log", domain: yDomain, axis: null},
    style: {background: "transparent", overflow: "visible"},
    marks: [
      line(seriesBlue[i], "#0000ff"),
      line(seriesRed[i], "#ff0000"),
      // inward ticks, all four sides
      Plot.tickX(xMin, {x: d => d, insetTop: innerH - 3, ...tickStyle}),
      Plot.tickX(xMaj, {x: d => d, insetTop: innerH - 6, ...tickStyle}),
      Plot.tickX(xMin, {x: d => d, insetBottom: innerH - 3, ...tickStyle}),
      Plot.tickX(xMaj, {x: d => d, insetBottom: innerH - 6, ...tickStyle}),
      Plot.tickY(yMin, {y: d => d, insetRight: innerW - 3, ...tickStyle}),
      Plot.tickY(yMaj, {y: d => d, insetRight: innerW - 5, ...tickStyle}),
      Plot.tickY(yMin, {y: d => d, insetLeft: innerW - 3, ...tickStyle}),
      Plot.tickY(yMaj, {y: d => d, insetLeft: innerW - 5, ...tickStyle}),
      Plot.frame({stroke: frameColor, strokeWidth: 1.4}),
      // x tick labels 10^n
      Plot.text(expVals, {x: d => d, frameAnchor: "bottom", text: () => "10", textAnchor: "end", dx: 0, dy: 31.5 - 0.32 * 27 + 11, fontSize: 27, fontFamily: sansAxis, fill: "#111"}),
      Plot.text(expVals, {x: d => d, frameAnchor: "bottom", text: d => String(Math.round(Math.log10(d))), textAnchor: "start", dx: 0, dy: 17.4 - 0.32 * 16 + 11, fontSize: 16, fontFamily: sansAxis, fill: "#111"}),
      // axis label
      Plot.text([xLabel], {frameAnchor: "bottom", text: d => d, dy: 80 - 0.32 * 32 + 12, fontSize: 32, fontFamily: sansAxis, fill: "#111"}),
      // panel tag and sample name
      Plot.text([tagFull], {frameAnchor: "top-right", text: d => d, textAnchor: "end", dx: tagDx[i], dy: 47.5 - 0.32 * 33 - 12 + tagShift[i], fontSize: 33, fontFamily: sansLabel, fill: "#111"}),
      Plot.text([fullName], {frameAnchor: "bottom-left", text: d => d, textAnchor: "start", dx: nameDx[i], dy: -nameBase[i] - 0.32 * 31 + 8, fontSize: 31, fontFamily: sansLabel, fill: "#111"})
    ]
  });
  scaleTextX(svg, s => s === "10", 0.84);
  scaleTextX(svg, s => s === fullName, 1.1);
  richText(svg, fullName, [[name[0], false], [name[1], true], [name[2], false]]);
  richText(svg, tagFull, [["(", false], [tag, true], [")", false]]);
  const div = document.createElement("div");
  div.className = "panel";
  div.style.left = colLeft[col] + "px";
  div.style.top = rowTop[row] + "px";
  div.appendChild(svg);
  document.body.appendChild(div);
});
</script>
</body></html>
